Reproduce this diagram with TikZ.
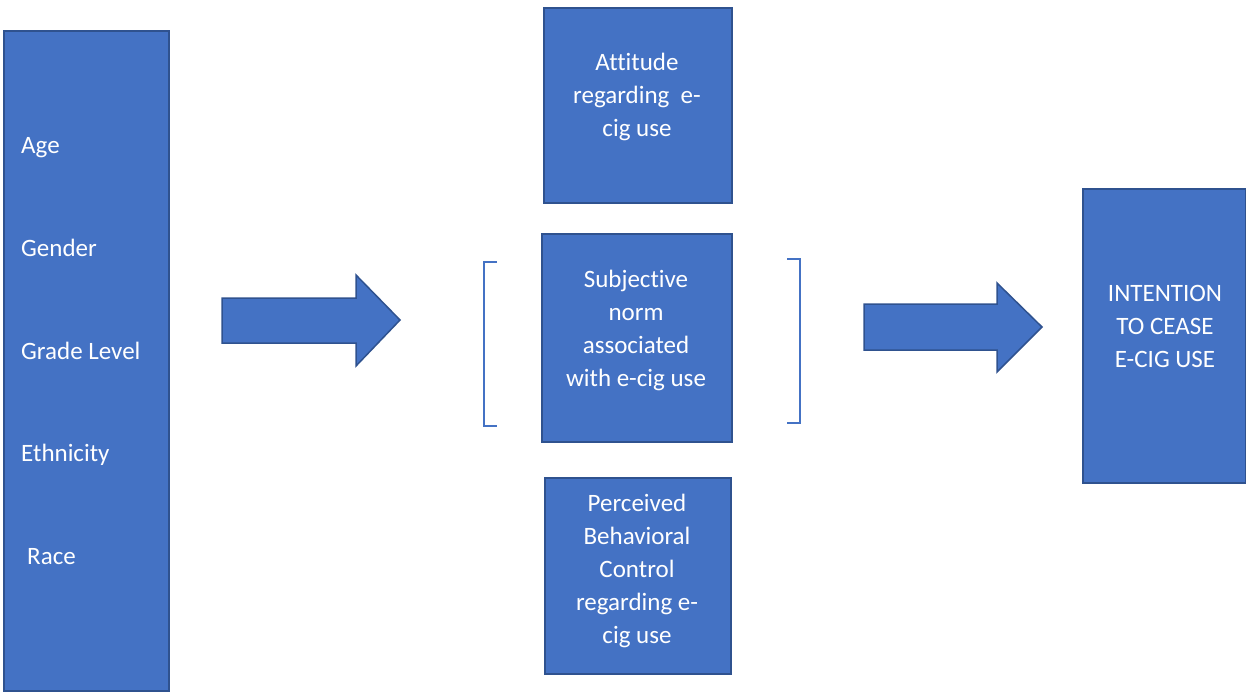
\documentclass[tikz,border=0pt]{standalone}
\usepackage{fontspec}
\setmainfont{Carlito}[Ligatures={NoCommon}]
\definecolor{boxfill}{HTML}{4472C4}
\definecolor{boxline}{HTML}{2F528F}
\tikzset{
  box/.style={draw=boxline, fill=boxfill, line width=1.5pt, rectangle, inner sep=0pt, anchor=north west},
  lbl/.style={text=white, font=\fontsize{25}{33}\selectfont, inner sep=0pt},
  clbl/.style={lbl, align=center, anchor=center},
  blockarrow/.style={draw=boxline, fill=boxfill, line width=1.5pt, line join=miter},
  brace/.style={draw=boxfill, line width=1.3pt}
}
\begin{document}
\begin{tikzpicture}[x=1pt,y=-1pt]
\useasboundingbox (0,0) rectangle (1246,691);
% left box
\node[box, minimum width=165pt, minimum height=660pt] (demo) at (3,30) {};
\node[lbl, anchor=base west] (age) at (21,153) {Age};
\node[lbl, anchor=base west] (gender) at (21,256) {Gender};
\node[lbl, anchor=base west] (grade) at (21,359) {Grade Level};
\node[lbl, anchor=base west] (eth) at (21,461) {Ethnicity};
\node[lbl, anchor=base west] (race) at (27,564) {Race};
% center boxes
\node[box, minimum width=188pt, minimum height=195pt] (att) at (543,7) {};
\node[clbl] (atttxt) at (637,97) {Attitude\\regarding\ \ e-\\cig use};
\node[box, minimum width=190pt, minimum height=208pt] (subj) at (541,233) {};
\node[clbl] (subjtxt) at (636,330) {Subjective\\norm\\associated\\with e-cig use};
\node[box, minimum width=186pt, minimum height=196pt] (pbc) at (544,477) {};
\node[clbl] (pbctxt) at (637,571) {Perceived\\Behavioral\\Control\\regarding e-\\cig use};
% right box
\node[box, minimum width=163pt, minimum height=294pt] (intent) at (1082,188) {};
\node[clbl] (inttxt) at (1165,326) {INTENTION\\TO CEASE\\E-CIG USE};
% brackets
\coordinate (lbt) at (497,262);
\coordinate (lbb) at (497,426);
\draw[brace] (lbt) -- (484,262) -- (484,426) -- (lbb);
\coordinate (rbt) at (787,259);
\coordinate (rbb) at (787,423);
\draw[brace] (rbt) -- (800,259) -- (800,423) -- (rbb);
% block arrows
\coordinate (a1) at (222,298);
\draw[blockarrow] (a1) -- (356,298) -- (356,275) -- (400,320) -- (356,366) -- (356,343) -- (222,343) -- cycle;
\coordinate (a2) at (864,304);
\draw[blockarrow] (a2) -- (997,304) -- (997,283) -- (1042,327) -- (997,372) -- (997,350) -- (864,350) -- cycle;
\end{tikzpicture}
\end{document}
